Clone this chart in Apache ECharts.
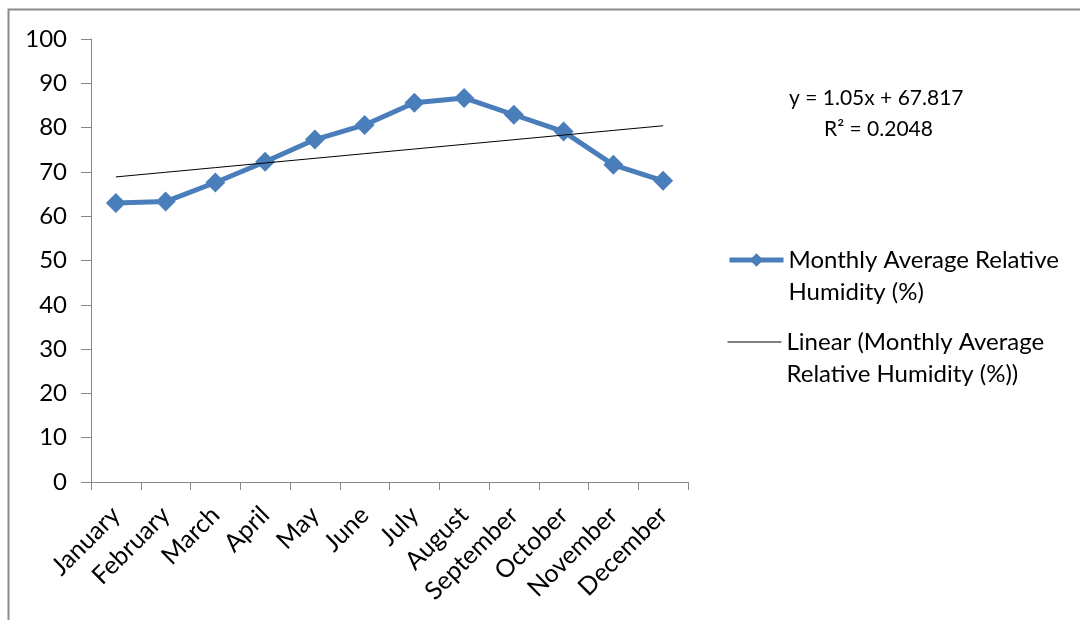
<!DOCTYPE html>
<html>
<head>
<meta charset="utf-8">
<title>Monthly Average Relative Humidity</title>
<script src="https://cdn.jsdelivr.net/npm/echarts@6/dist/echarts.min.js"></script>
<style>
  html, body { margin: 0; padding: 0; background: #ffffff; }
  #chart { width: 1080px; height: 620px; }
</style>
</head>
<body>
<div id="chart"></div>
<script>
// Months on the category axis
const months = ['January', 'February', 'March', 'April', 'May', 'June',
  'July', 'August', 'September', 'October', 'November', 'December'];

// Monthly average relative humidity (%)
const humidity = [63.0, 63.3, 67.6, 72.3, 77.3, 80.6, 85.6, 86.7, 82.9, 79.1, 71.6, 68.0];

// Linear trendline coefficients (x = month index starting at 1)
const trendSlope = 1.05;
const trendIntercept = 67.817;
const trendR2 = 0.2048;

// Value axis ticks
const yTicks = [0, 10, 20, 30, 40, 50, 60, 70, 80, 90, 100];

const seriesName = 'Monthly Average Relative Humidity (%)';
const trendName = 'Linear (Monthly Average Relative Humidity (%))';

const trendValues = months.map((m, i) => +(trendSlope * (i + 1) + trendIntercept).toFixed(3));

const FONT = 'Lato, "Open Sans", sans-serif';
const AXIS_GREY = '#868686';
const BLUE = '#4a7ebb';

const chart = echarts.init(document.getElementById('chart'), null, { renderer: 'canvas' });

// Legend names wrapped onto two lines; the leading blank line keeps the
// first text line level with the legend symbol.
const legendLines = {};
legendLines[seriesName] = '\nMonthly Average Relative\nHumidity (%)';
legendLines[trendName] = '\nLinear (Monthly Average\nRelative Humidity (%))';

const legendText = {
  color: '#000',
  fontFamily: FONT,
  fontSize: 24,
  lineHeight: 32
};

const legendBase = {
  orient: 'vertical', left: 727, padding: 0,
  itemWidth: 54, itemHeight: 17, itemGap: 0,
  selectedMode: false,
  lineStyle: { width: 'inherit' },
  formatter: name => legendLines[name],
  textStyle: legendText
};

chart.setOption({
  animation: false,
  backgroundColor: '#ffffff',
  grid: { left: 91, right: 392, top: 39, bottom: 138, containLabel: false },
  xAxis: {
    type: 'category',
    data: months,
    boundaryGap: true,
    axisLine: { show: true, lineStyle: { color: AXIS_GREY, width: 1 } },
    axisTick: { show: true, alignWithLabel: false, length: 8, lineStyle: { color: AXIS_GREY } },
    axisLabel: {
      interval: 0, rotate: 45, margin: 29,
      color: '#000', fontFamily: FONT, fontSize: 25
    },
    splitLine: { show: false }
  },
  yAxis: {
    type: 'value',
    min: yTicks[0],
    max: yTicks[yTicks.length - 1],
    interval: yTicks[1] - yTicks[0],
    axisLine: { show: true, lineStyle: { color: AXIS_GREY, width: 1 } },
    axisTick: { show: true, length: 10, lineStyle: { color: AXIS_GREY } },
    axisLabel: { margin: 24, color: '#000', fontFamily: FONT, fontSize: 24 },
    splitLine: { show: false }
  },
  legend: [
    Object.assign({}, legendBase, { top: 212, data: [seriesName] }),
    Object.assign({}, legendBase, {
      top: 294,
      data: [{ name: trendName, itemStyle: { opacity: 0 } }]
    })
  ],
  graphic: [
    {
      type: 'rect', silent: true, z: -1,
      shape: { x: 8.5, y: 9.5, width: 1200, height: 700 },
      style: { fill: 'none', stroke: '#8c8c8c', lineWidth: 2 }
    },
    {
      type: 'text', left: 789, top: 88,
      style: {
        text: 'y = ' + trendSlope + 'x + ' + trendIntercept,
        fill: '#000', font: '21px ' + FONT
      }
    },
    {
      type: 'text', left: 824, top: 119,
      style: {
        text: 'R² = ' + trendR2,
        fill: '#000', font: '21px ' + FONT
      }
    }
  ],
  series: [
    {
      name: seriesName,
      type: 'line',
      data: humidity,
      symbol: 'diamond',
      symbolSize: 20,
      lineStyle: { color: BLUE, width: 5 },
      itemStyle: { color: BLUE },
      z: 3
    },
    {
      name: trendName,
      type: 'line',
      data: trendValues,
      symbol: 'none',
      showSymbol: false,
      lineStyle: { color: '#000', width: 1 },
      itemStyle: { color: '#000' },
      z: 4
    }
  ]
});
</script>
</body>
</html>
